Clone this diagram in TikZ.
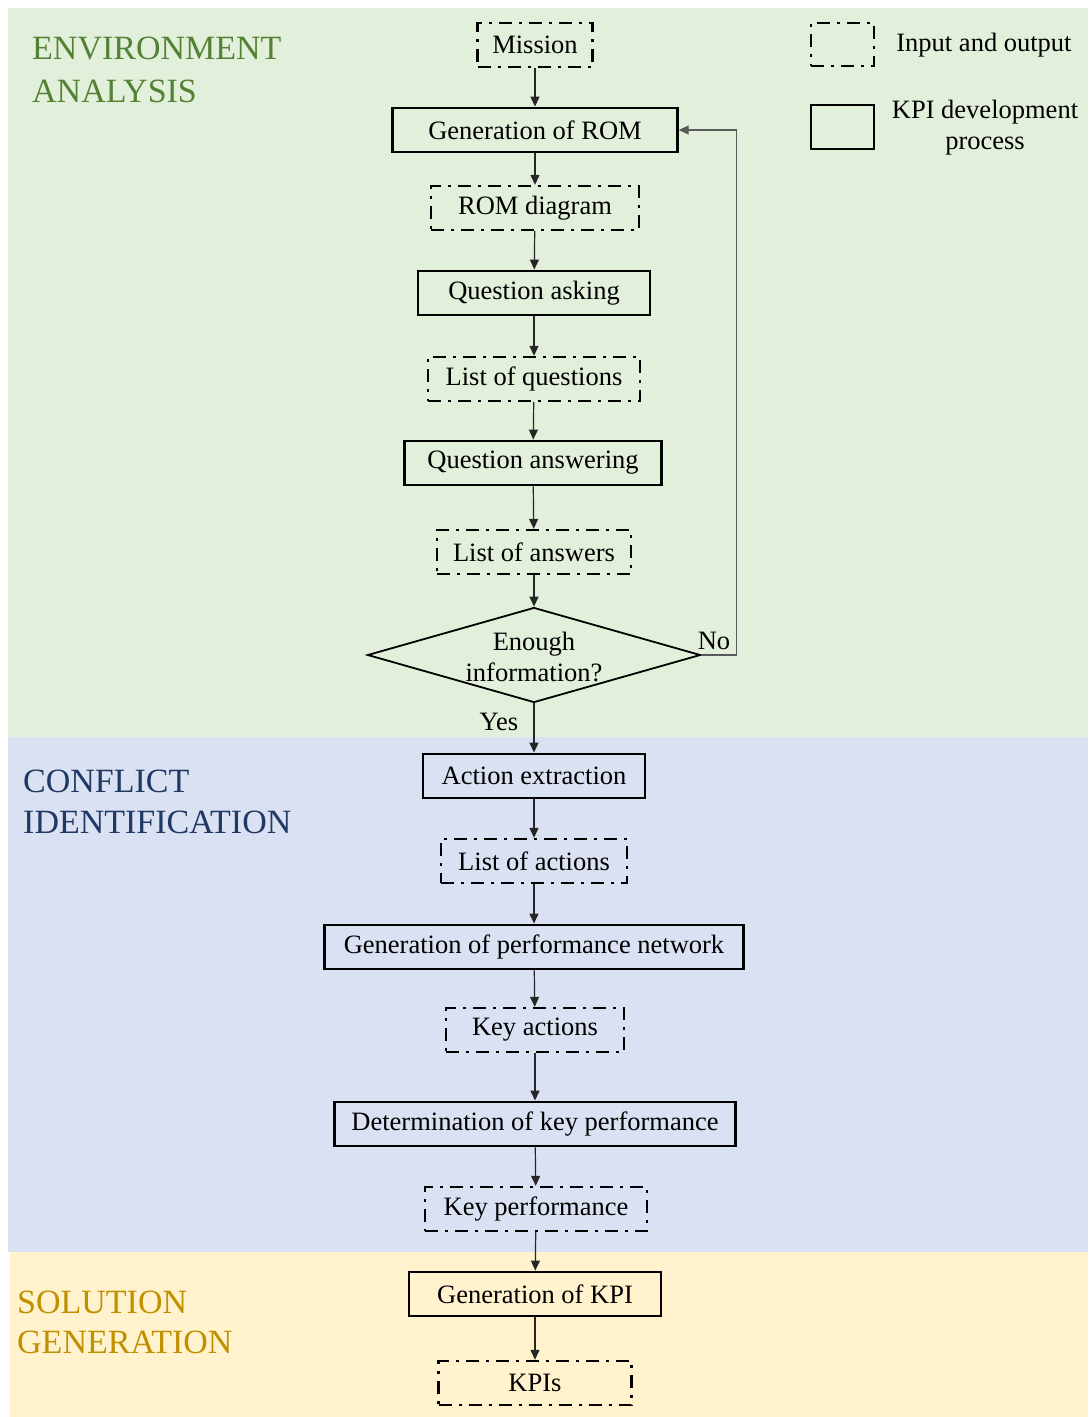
\documentclass[tikz,border=0pt]{standalone}
\usepackage{fontspec}
\setmainfont{Liberation Serif}
\usetikzlibrary{shapes.geometric,arrows.meta}
\definecolor{bandgreen}{HTML}{E2EFDA}
\definecolor{bandblue}{HTML}{D9E1F2}
\definecolor{bandyellow}{HTML}{FFF2CC}
\definecolor{txtgreen}{HTML}{548235}
\definecolor{txtblue}{HTML}{203864}
\definecolor{txtgold}{HTML}{BF9000}

\begin{document}
\begin{tikzpicture}[x=1pt,y=-1pt,
  boxfont/.style={font=\fontsize{26.5}{31}\selectfont},
  proc/.style={draw, line width=2.4pt, minimum height=44.5pt, inner sep=0pt, boxfont},
  io/.style={draw, line width=2.4pt, dash pattern=on 13pt off 7pt on 3pt off 7pt,
             minimum height=44pt, inner sep=0pt, boxfont},
  conn/.style={draw=black!85, line width=1.2pt, -{Triangle[length=10pt,width=9pt]}},
  lbl/.style={boxfont, inner sep=0pt, align=center},
  sect/.style={font=\fontsize{34}{40}\selectfont, anchor=base west, inner sep=0pt}]

% page and section bands
\path[fill=white, use as bounding box] (0,0) rectangle (1088,1417);
\fill[bandgreen]  (8,8)    rectangle (1088,737);
\fill[bandblue]   (8,737)  rectangle (1088,1252);
\fill[bandyellow] (10,1252) rectangle (1088,1417);

% section titles
\node[sect, text=txtgreen] (ea1) at (32,59)   {ENVIRONMENT};
\node[sect, text=txtgreen] (ea2) at (32,102)  {ANALYSIS};
\node[sect, text=txtblue]  (ci1) at (23,792)  {CONFLICT};
\node[sect, text=txtblue]  (ci2) at (23,833)  {IDENTIFICATION};
\node[sect, text=txtgold]  (sg1) at (17,1313) {SOLUTION};
\node[sect, text=txtgold]  (sg2) at (17,1353) {GENERATION};

% legend
\node[io, minimum width=63pt, minimum height=43pt] (legio) at (842.5,44.5) {};
\node[lbl] (legiotxt) at (984,45) {Input and output};
\node[proc, minimum width=63pt, minimum height=44pt] (legproc) at (842.5,127) {};
\node[lbl] (legproctxt) at (985,128) {KPI development\\process};

% flow
\node[io,   minimum width=115pt] (mission) at (535,45)  {Mission};
\node[proc, minimum width=285pt] (genrom)  at (535,130) {Generation of ROM};
\node[io,   minimum width=208pt] (romdia)  at (535,208) {ROM diagram};
\node[proc, minimum width=232pt] (qask)    at (534,293) {Question asking};
\node[io,   minimum width=212pt] (qlist)   at (534,379) {List of questions};
\node[proc, minimum width=257pt] (qans)    at (533,463) {Question answering};
\node[io,   minimum width=194pt] (alist)   at (534,552) {List of answers};
\node[draw, diamond, line width=1.8pt, minimum width=333pt, minimum height=95pt,
      inner sep=0pt] (dec) at (534,655) {};
\node[lbl] (dectxt) at (534,657) {Enough\\information?};
\node[lbl] (no)  at (714,641) {No};
\node[lbl] (yes) at (499,722) {Yes};

\node[proc, minimum width=222pt] (actext)  at (534,776)  {Action extraction};
\node[io,   minimum width=186pt] (actlist) at (534,861)  {List of actions};
\node[proc, minimum width=419pt] (perfnet) at (534,947)  {Generation of performance network};
\node[io,   minimum width=178pt] (keyact)  at (535,1030) {Key actions};
\node[proc, minimum width=401pt] (detkey)  at (535,1124) {Determination of key performance};
\node[io,   minimum width=222pt] (keyperf) at (536,1209) {Key performance};
\node[proc, minimum width=252pt] (genkpi)  at (535,1294) {Generation of KPI};
\node[io,   minimum width=193pt] (kpis)    at (535,1383) {KPIs};

% connectors
\draw[conn] (mission) -- (genrom);
\draw[conn] (genrom) -- (romdia);
\draw[conn] (romdia) -- (qask);
\draw[conn] (qask) -- (qlist);
\draw[conn] (qlist) -- (qans);
\draw[conn] (qans) -- (alist);
\draw[conn] (alist) -- (dec.north);
\draw[conn] (dec.south) -- (actext);
\draw[conn] (actext) -- (actlist);
\draw[conn] (actlist) -- (perfnet);
\draw[conn] (perfnet) -- (keyact);
\draw[conn] (keyact) -- (detkey);
\draw[conn] (detkey) -- (keyperf);
\draw[conn] (keyperf) -- (genkpi);
\draw[conn] (genkpi) -- (kpis);
\draw[conn, draw=black!65] (dec.east) -- ++(35,0) |- (genrom.east);
\end{tikzpicture}
\end{document}
